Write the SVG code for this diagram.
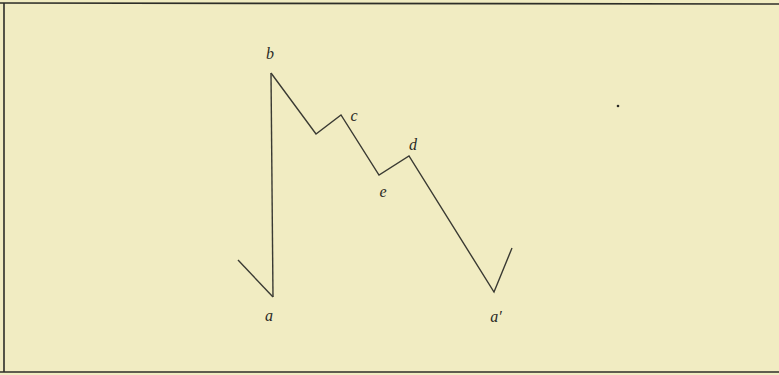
<svg xmlns="http://www.w3.org/2000/svg" width="779" height="375" viewBox="0 0 779 375">
<style>
.ln{fill:none;stroke:#3a3a33;stroke-width:1.4;stroke-linejoin:miter}
.fr{fill:none;stroke:#2e2e28;stroke-width:1.6}
.lb{font-family:"Liberation Serif",serif;font-style:italic;font-size:16px;fill:#2a2a25;text-anchor:middle}
</style>
<rect width="779" height="375" fill="#f1ecc2"/>
<g id="frame">
<line class="fr" x1="0" y1="3" x2="779" y2="4"/>
<line class="fr" x1="0" y1="372" x2="779" y2="372"/>
<line class="fr" x1="4" y1="3" x2="4" y2="372"/>
</g>
<g id="connectors">
<polyline class="ln" points="271,73 273,297"/>
<polyline class="ln" points="238,260 273,297"/>
<polyline class="ln" points="271,73 316,134 341,115 379,175 409,156 494,292 512,248"/>
</g>
<g id="node-b"><text class="lb" x="270" y="59">b</text></g>
<g id="node-c"><text class="lb" x="354" y="121">c</text></g>
<g id="node-d"><text class="lb" x="413" y="150">d</text></g>
<g id="node-e"><text class="lb" x="383" y="197">e</text></g>
<g id="node-a"><text class="lb" x="269" y="321">a</text></g>
<g id="node-a2"><text class="lb" x="496" y="322">a′</text></g>
<g id="dot"><circle cx="618" cy="106" r="1.3" fill="#2a2a25"/></g>
</svg>
